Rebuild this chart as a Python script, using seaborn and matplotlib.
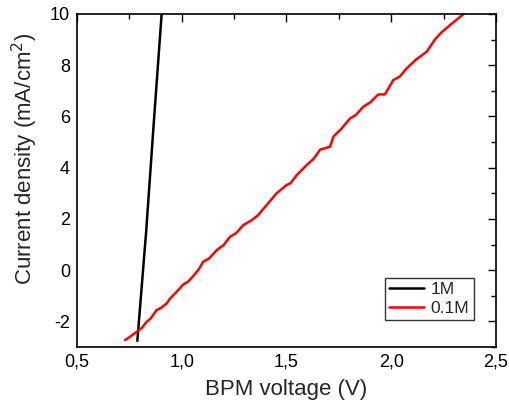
import numpy as np
import pandas as pd
import matplotlib.pyplot as plt
import matplotlib.ticker as mticker
import seaborn as sns

# 1M curve (nearly vertical)
v_1m = [0.788, 0.83, 0.866, 0.904]
j_1m = [-2.76, 1.5, 5.7, 10.0]

# 0.1M curve
v_01m = [0.729, 0.75, 0.785, 0.81, 0.832, 0.85, 0.88, 0.90, 0.928, 0.945, 0.968,
         0.99, 1.007, 1.03, 1.055, 1.08, 1.103, 1.13, 1.167, 1.20, 1.23, 1.26,
         1.294, 1.334, 1.365, 1.38, 1.405, 1.453, 1.50, 1.52, 1.549, 1.596,
         1.63, 1.66, 1.708, 1.724, 1.76, 1.803, 1.83, 1.867, 1.90, 1.938, 1.97,
         2.01, 2.04, 2.074, 2.12, 2.17, 2.21, 2.24, 2.29, 2.34, 2.35]
j_01m = [-2.73, -2.62, -2.41, -2.25, -2.02, -1.90, -1.56, -1.48, -1.30, -1.10, -0.91,
         -0.72, -0.56, -0.45, -0.23, 0.02, 0.33, 0.45, 0.78, 0.98, 1.30, 1.45,
         1.76, 1.95, 2.15, 2.30, 2.54, 3.00, 3.32, 3.40, 3.71, 4.10,
         4.35, 4.70, 4.82, 5.21, 5.50, 5.92, 6.05, 6.38, 6.55, 6.86, 6.86,
         7.42, 7.55, 7.88, 8.23, 8.53, 9.02, 9.28, 9.63, 9.96, 10.05]

df = pd.concat([
    pd.DataFrame({'v': v_1m, 'j': j_1m, 'c': '1M'}),
    pd.DataFrame({'v': v_01m, 'j': j_01m, 'c': '0.1M'}),
])

sns.set_style('white')
plt.rcParams['font.family'] = ['Liberation Sans', 'DejaVu Sans']
plt.rcParams['axes.unicode_minus'] = False

fig = plt.figure(figsize=(5.1, 4.09), dpi=100)
ax = fig.add_axes([0.151, 0.1516, 0.8215, 0.8142])
sns.lineplot(data=df, x='v', y='j', hue='c', palette={'1M': 'black', '0.1M': 'red'},
             sort=False, estimator=None, linewidth=1.8, ax=ax)

ax.set_xlim(0.5, 2.5)
ax.set_ylim(-3, 10)
ax.xaxis.set_major_locator(mticker.MultipleLocator(0.5))
ax.xaxis.set_minor_locator(mticker.MultipleLocator(0.25))
ax.yaxis.set_major_locator(mticker.MultipleLocator(2))
ax.yaxis.set_minor_locator(mticker.MultipleLocator(1))
ax.xaxis.set_major_formatter(mticker.FuncFormatter(lambda x, p: '{:.1f}'.format(x).replace('.', ',')))
ax.tick_params(which='both', direction='in', top=True, right=True, labelsize=13,
               colors='black', width=1, pad=5)
ax.tick_params(which='major', length=6)
ax.tick_params(which='minor', length=3.5)
for s in ax.spines.values():
    s.set_color('black')
    s.set_linewidth(1.2)

ax.set_xlabel('BPM voltage (V)', fontsize=16, labelpad=6)
ax.set_ylabel('Current density (mA/cm$^2$)', fontsize=16)
ax.yaxis.set_label_coords(-0.088, 0.565)

leg = ax.legend(loc='lower right', bbox_to_anchor=(0.947, 0.08), fontsize=12.5,
                frameon=True, fancybox=False, edgecolor='black', handlelength=2.0,
                borderpad=0.25, labelspacing=0.2, handletextpad=0.4, borderaxespad=0)
leg.get_frame().set_linewidth(1)

fig.savefig('out.png', dpi=100)
